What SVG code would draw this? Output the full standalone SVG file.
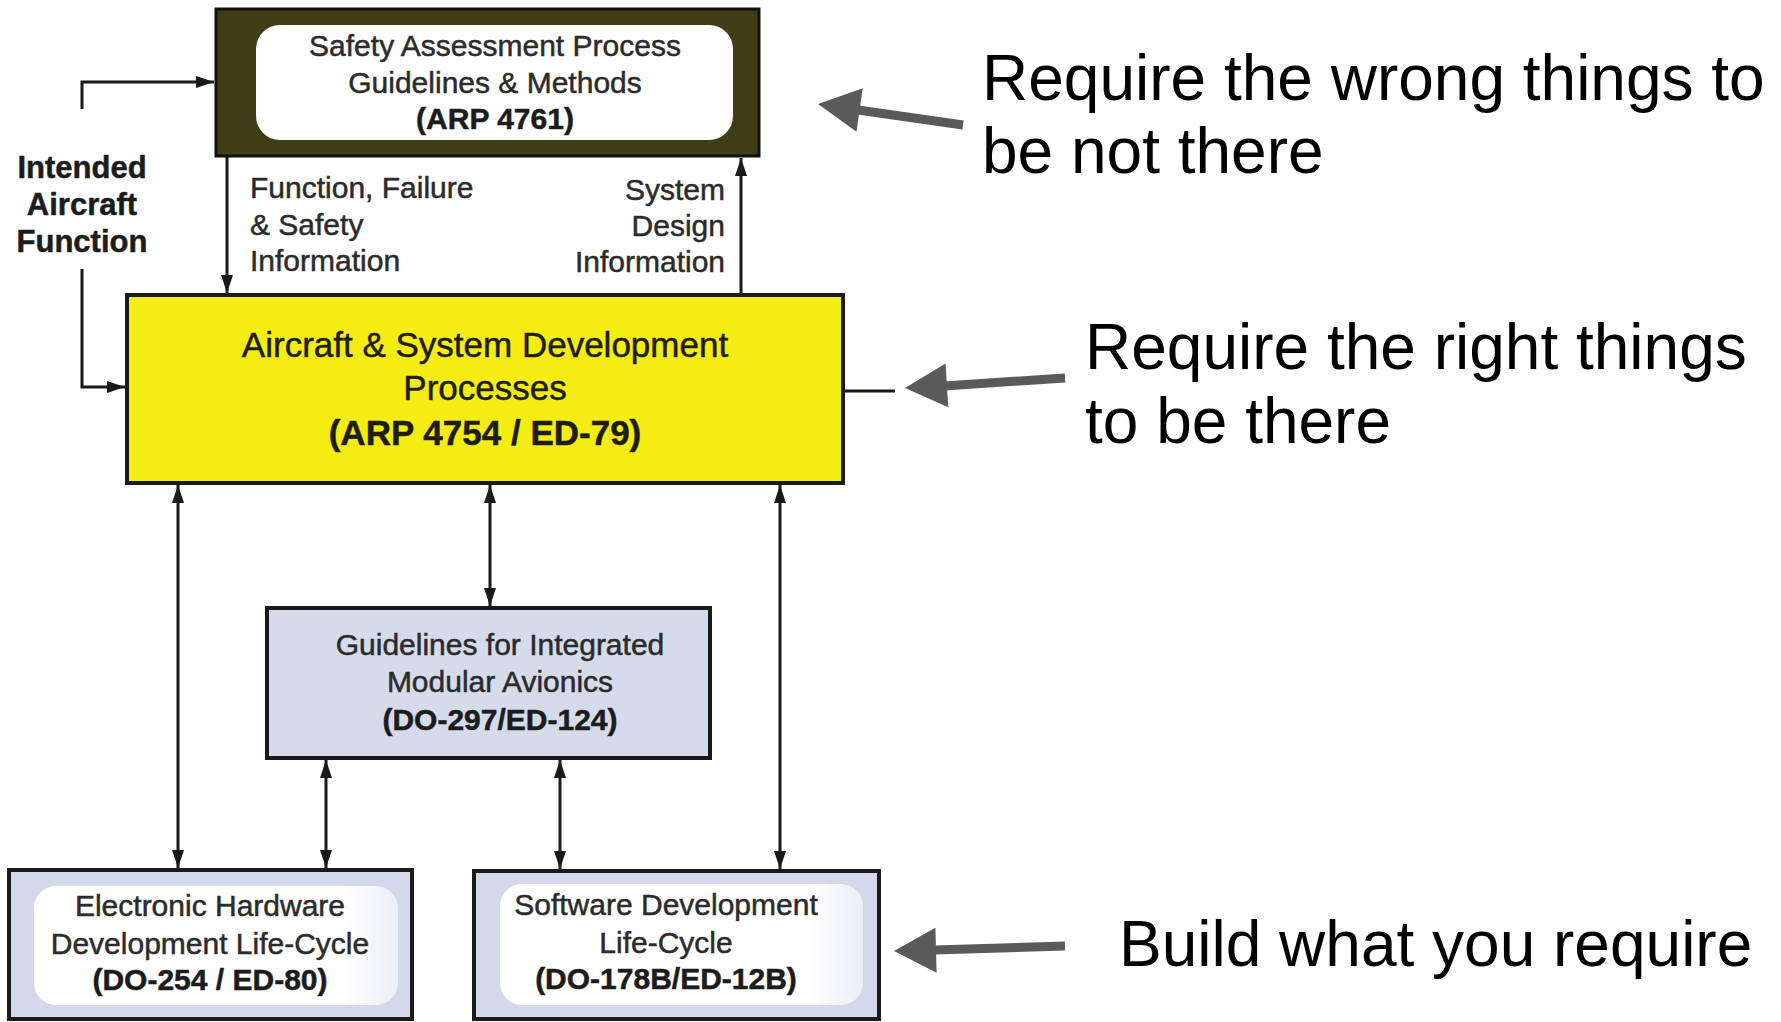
<svg xmlns="http://www.w3.org/2000/svg" width="1781" height="1022" viewBox="0 0 1781 1022">
<defs>
<style>
.t{font-family:"Liberation Sans",Arial,sans-serif;font-size:30px;fill:#2b2b2b;stroke:#2b2b2b;stroke-width:0.5;text-anchor:middle}
.b{font-weight:bold;fill:#1c1c1c;stroke:#1c1c1c}
.l{font-size:31px}
.y{font-size:35px;fill:#1e1e10;stroke:#1e1e10}
.s{text-anchor:start}
.e{text-anchor:end}
.big{font-family:"Liberation Sans",Arial,sans-serif;font-size:64px;fill:#000}
.c{fill:none;stroke:#1a1a1a;stroke-width:3}
.box{stroke:#1a1a1a;stroke-width:4}
.g{fill:none;stroke:#5a5a5a;stroke-width:9}
.gh{fill:#5a5a5a}
</style>
<marker id="ah" viewBox="0 0 18 12" refX="18" refY="6" markerWidth="18" markerHeight="12" markerUnits="userSpaceOnUse" orient="auto-start-reverse">
<path d="M0,0 L18,6 L0,12 z" fill="#1a1a1a"/>
</marker>
<linearGradient id="wg" x1="0" y1="0" x2="1" y2="0">
<stop offset="0" stop-color="#ffffff"/>
<stop offset="0.85" stop-color="#ffffff"/>
<stop offset="1" stop-color="#eceef6"/>
</linearGradient>
</defs>

<g id="connectors">
<path class="c" d="M82,109 V82 H214" marker-end="url(#ah)"/>
<path class="c" d="M82,269 V387 H125" marker-end="url(#ah)"/>
<path class="c" d="M227,156 V293" marker-end="url(#ah)"/>
<path class="c" d="M741,295 V158" marker-end="url(#ah)"/>
<path class="c" d="M843,391 H895"/>
<path class="c" d="M178,485 V868" marker-start="url(#ah)" marker-end="url(#ah)"/>
<path class="c" d="M490,485 V606" marker-start="url(#ah)" marker-end="url(#ah)"/>
<path class="c" d="M780,485 V869" marker-start="url(#ah)" marker-end="url(#ah)"/>
<path class="c" d="M326,760 V868" marker-start="url(#ah)" marker-end="url(#ah)"/>
<path class="c" d="M560,760 V869" marker-start="url(#ah)" marker-end="url(#ah)"/>
<text class="t b l" x="82" y="178">Intended</text>
<text class="t b l" x="82" y="215">Aircraft</text>
<text class="t b l" x="82" y="252">Function</text>
<text class="t s" x="250" y="198">Function, Failure</text>
<text class="t s" x="250" y="235">&amp; Safety</text>
<text class="t s" x="250" y="271">Information</text>
<text class="t e" x="725" y="200">System</text>
<text class="t e" x="725" y="236">Design</text>
<text class="t e" x="725" y="272">Information</text>
</g>

<g id="safety">
<rect x="216" y="9" width="543" height="147" fill="#403d17" stroke="#111" stroke-width="3"/>
<rect x="256" y="25" width="477" height="115" rx="24" fill="#ffffff"/>
<text class="t" x="495" y="56">Safety Assessment Process</text>
<text class="t" x="495" y="93">Guidelines &amp; Methods</text>
<text class="t b" x="495" y="129">(ARP 4761)</text>
</g>

<g id="aircraft">
<rect class="box" x="127" y="295" width="716" height="188" fill="#f4ec12"/>
<text class="t y" x="485" y="357">Aircraft &amp; System Development</text>
<text class="t y" x="485" y="400">Processes</text>
<text class="t y b" x="485" y="445">(ARP 4754 / ED-79)</text>
</g>

<g id="ima">
<rect class="box" x="267" y="608" width="443" height="150" fill="#d6dbec"/>
<text class="t" x="500" y="655">Guidelines for Integrated</text>
<text class="t" x="500" y="692">Modular Avionics</text>
<text class="t b" x="500" y="730">(DO-297/ED-124)</text>
</g>

<g id="hardware">
<rect class="box" x="9" y="870" width="403" height="149" fill="#d3d8ea"/>
<rect x="34" y="886" width="364" height="119" rx="22" fill="url(#wg)"/>
<text class="t" x="210" y="916">Electronic Hardware</text>
<text class="t" x="210" y="954">Development Life-Cycle</text>
<text class="t b" x="210" y="990">(DO-254 / ED-80)</text>
</g>

<g id="software">
<rect class="box" x="474" y="871" width="405" height="148" fill="#d3d8ea"/>
<rect x="500" y="884" width="363" height="121" rx="22" fill="url(#wg)"/>
<text class="t" x="666" y="915">Software Development</text>
<text class="t" x="666" y="953">Life-Cycle</text>
<text class="t b" x="666" y="989">(DO-178B/ED-12B)</text>
</g>

<g id="annotations">
<line class="g" x1="963" y1="125" x2="858" y2="110"/>
<polygon class="gh" points="818,104 862.7,88.2 856.5,131.8"/>
<line class="g" x1="1065" y1="378" x2="944" y2="386"/>
<polygon class="gh" points="905,388 948.3,407.3 945.5,363.4"/>
<line class="g" x1="1065" y1="946" x2="934" y2="950"/>
<polygon class="gh" points="894,951 936.6,972.8 935.4,927.8"/>
<text class="big" x="982" y="100">Require the wrong things to</text>
<text class="big" x="982" y="173">be not there</text>
<text class="big" x="1085" y="369">Require the right things</text>
<text class="big" x="1085" y="443">to be there</text>
<text class="big" x="1119" y="966">Build what you require</text>
</g>
</svg>
